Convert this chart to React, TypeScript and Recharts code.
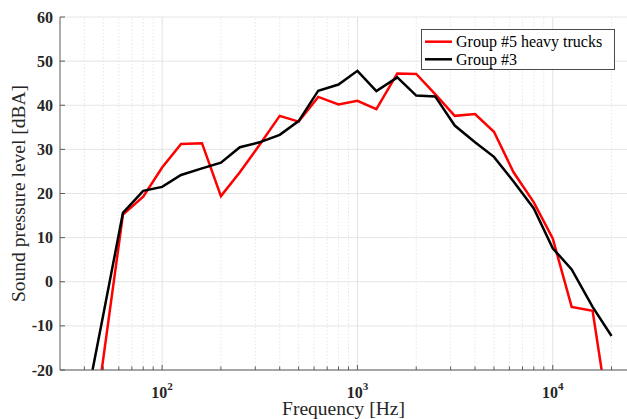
import React from 'react';
import { LineChart, Line, XAxis, YAxis, CartesianGrid, ReferenceLine, Legend } from 'recharts';

const freqs = [40, 50, 63, 80, 100, 125, 160, 200, 250, 315, 400, 500, 630, 800, 1000, 1250, 1600, 2000, 2500, 3150, 4000, 5000, 6300, 8000, 10000, 12500, 16000, 20000];
const group5 = [-49, -17.3, 15.2, 19.3, 25.9, 31.2, 31.4, 19.4, 24.8, 31.0, 37.6, 36.3, 41.9, 40.2, 41.0, 39.1, 47.2, 47.1, 42.5, 37.6, 38.0, 34.0, 24.8, 18.0, 9.8, -5.7, -6.6, -34.7];
const group3 = [-29.5, -7.4, 15.6, 20.6, 21.5, 24.2, 25.7, 27.0, 30.5, 31.6, 33.3, 36.4, 43.3, 44.7, 47.8, 43.2, 46.3, 42.2, 42.0, 35.4, 31.6, 28.3, 22.7, 16.6, 7.6, 2.8, -5.7, -12.3];

const majorX = [100, 1000, 10000];
const minorX = [40, 50, 60, 70, 80, 90, 200, 300, 400, 500, 600, 700, 800, 900, 2000, 3000, 4000, 5000, 6000, 7000, 8000, 9000, 20000];
const allX = [...minorX, ...majorX].sort((a, b) => a - b);
const yTicks = [-20, -10, 0, 10, 20, 30, 40, 50, 60];
const xDomain = [30, 24000];
const yDomain = [-20, 60];

const seriesNames = { g5: 'Group #5 heavy trucks', g3: 'Group #3' };

const data = freqs.map((f, i) => ({ f, g5: group5[i], g3: group3[i] }));

const FONT = '"Liberation Serif", "Times New Roman", serif';
const SPINE = '#5a5a5a';

const BottomTick = (props: any) => {
  const { x, y, payload } = props;
  const v = payload.value;
  const major = majorX.includes(v);
  const exp = Math.round(Math.log10(v));
  return (
    <g>
      <line x1={x} x2={x} y1={y} y2={y - (major ? 5 : 3.5)} stroke={SPINE} strokeWidth={1} />
      {major && (
        <text x={x} y={y + 28} textAnchor="middle" fontFamily={FONT} fontWeight="bold" fontSize={16} fill="#262626">
          10<tspan dy={-8} fontSize={11}>{exp}</tspan>
        </text>
      )}
    </g>
  );
};

const TopTick = (props: any) => {
  const { x, y, payload } = props;
  const major = majorX.includes(payload.value);
  return <line x1={x} x2={x} y1={y} y2={y + (major ? 5 : 3.5)} stroke={SPINE} strokeWidth={1} />;
};

const LeftTick = (props: any) => {
  const { x, y, payload } = props;
  return (
    <g>
      <line x1={x} x2={x + 5} y1={y} y2={y} stroke={SPINE} strokeWidth={1} />
      <text x={x - 7} y={y + 5.5} textAnchor="end" fontFamily={FONT} fontWeight="bold" fontSize={16} fill="#262626">
        {payload.value}
      </text>
    </g>
  );
};

const RightTick = (props: any) => {
  const { x, y } = props;
  return <line x1={x} x2={x - 6} y1={y} y2={y} stroke={SPINE} strokeWidth={1} />;
};

const LegendBox = () => (
  <div style={{ width: 194, height: 41, boxSizing: 'border-box', border: '1px solid #4a4a4a', background: '#fff' }}>
    <svg width={192} height={39} style={{ display: 'block' }}>
      <line x1={3} x2={30} y1={11.7} y2={11.7} stroke="#ff0000" strokeWidth={2.5} />
      <text x={34} y={17.3} fontFamily={FONT} fontSize={16} fill="#000">{seriesNames.g5}</text>
      <line x1={3} x2={30} y1={29.3} y2={29.3} stroke="#000" strokeWidth={2.5} />
      <text x={34} y={35} fontFamily={FONT} fontSize={16} fill="#000">{seriesNames.g3}</text>
    </svg>
  </div>
);

export default function App() {
  return (
    <div style={{ position: 'absolute', left: 0, top: 0, width: 627, height: 419, background: '#fff' }}>
      <LineChart width={627} height={419} data={data} margin={{ top: 17, right: 0, bottom: 0, left: 0 }}>
        <CartesianGrid vertical={false} stroke="#e6e6e6" strokeWidth={1} />
        {minorX.map((v) => (
          <ReferenceLine key={'m' + v} x={v} stroke="#e0e0e0" strokeDasharray="1.5 2" strokeWidth={0.8} />
        ))}
        {majorX.map((v) => (
          <ReferenceLine key={'M' + v} x={v} stroke="#e2e2e2" strokeWidth={1} />
        ))}
        <XAxis
          dataKey="f"
          type="number"
          scale="log"
          domain={xDomain}
          allowDataOverflow
          ticks={allX}
          interval={0}
          height={49}
          tickSize={0}
          tickMargin={0}
          tickLine={false}
          axisLine={{ stroke: SPINE }}
          tick={<BottomTick />}
          label={{
            content: (p: any) => {
              const vb = p.viewBox;
              return (
                <text x={vb.x + vb.width / 2} y={vb.y + 45} textAnchor="middle" fontFamily={FONT} fontSize={19.5} fill="#262626">
                  Frequency [Hz]
                </text>
              );
            },
          }}
        />
        <XAxis
          xAxisId="top"
          orientation="top"
          dataKey="f"
          type="number"
          scale="log"
          domain={xDomain}
          allowDataOverflow
          ticks={allX}
          interval={0}
          height={0}
          tickSize={0}
          tickMargin={0}
          tickLine={false}
          axisLine={{ stroke: SPINE }}
          tick={<TopTick />}
        />
        <YAxis
          type="number"
          domain={yDomain}
          allowDataOverflow
          ticks={yTicks}
          interval={0}
          width={60}
          tickSize={0}
          tickMargin={0}
          tickLine={false}
          axisLine={{ stroke: SPINE }}
          tick={<LeftTick />}
          label={{
            content: (p: any) => {
              const vb = p.viewBox;
              const cy = vb.y + vb.height / 2;
              return (
                <text x={18} y={cy} transform={`rotate(-90 18 ${cy})`} textAnchor="middle" dominantBaseline="central" fontFamily={FONT} fontSize={19.5} fill="#262626">
                  Sound pressure level [dBA]
                </text>
              );
            },
          }}
        />
        <YAxis
          yAxisId="right"
          orientation="right"
          type="number"
          domain={yDomain}
          allowDataOverflow
          ticks={yTicks}
          interval={0}
          width={0}
          tickSize={0}
          tickMargin={0}
          tickLine={false}
          axisLine={{ stroke: SPINE }}
          tick={<RightTick />}
        />
        <Line type="linear" dataKey="g5" name={seriesNames.g5} stroke="#ff0000" strokeWidth={2.5} dot={false} isAnimationActive={false} />
        <Line type="linear" dataKey="g3" name={seriesNames.g3} stroke="#000000" strokeWidth={2.5} dot={false} isAnimationActive={false} />
        <Legend
          layout="horizontal"
          verticalAlign="middle"
          align="center"
          content={() => <LegendBox />}
          wrapperStyle={{ left: 421, top: 29, width: 194, height: 41 }}
        />
      </LineChart>
    </div>
  );
}
